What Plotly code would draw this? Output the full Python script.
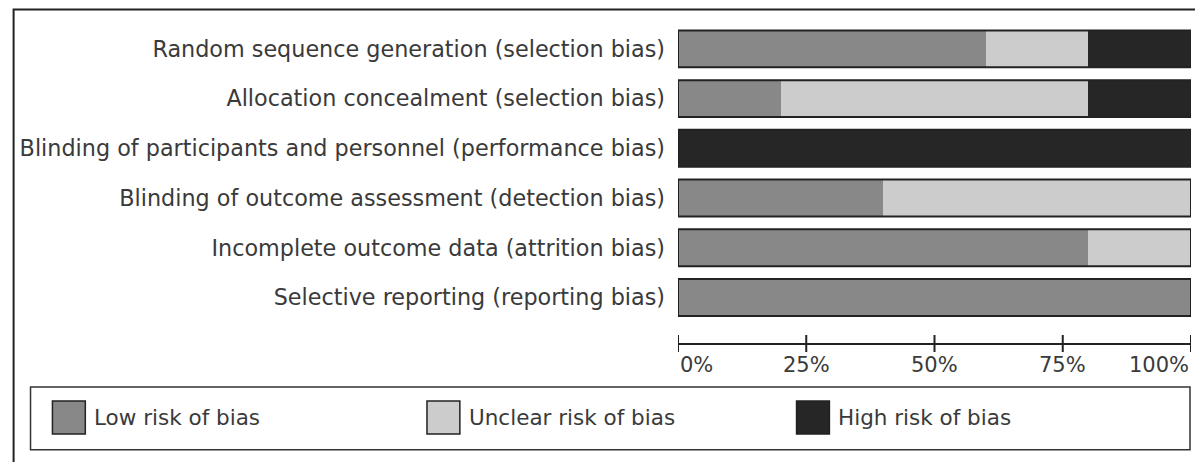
import plotly.graph_objects as go

# ---- data ----
domains = [
    "Random sequence generation (selection bias)",
    "Allocation concealment (selection bias)",
    "Blinding of participants and personnel (performance bias)",
    "Blinding of outcome assessment (detection bias)",
    "Incomplete outcome data (attrition bias)",
    "Selective reporting (reporting bias)",
]
low_risk = [60, 20, 0, 40, 80, 100]
unclear_risk = [20, 60, 0, 60, 20, 0]
high_risk = [20, 20, 100, 0, 0, 0]

series_names = ["Low risk of bias", "Unclear risk of bias", "High risk of bias"]
series_colors = ["#888888", "#cccccc", "#262626"]
tick_vals = [0, 25, 50, 75, 100]
tick_text = ["0%", "25%", "50%", "75%", "100%"]

# ---- geometry (reference pixel coords; page body adds an 8px offset) ----
OFF = 8
W, H = 1203 - OFF, 462 - OFF
L, R = 676 - OFF, 1191 - OFF
T, B = 23.6 - OFF, 344.0 - OFF
FONT = "DejaVu Sans"
TXT = "#3a3a3a"


def px2x(px):
    return (px - OFF - L) / (R - L)


def px2y(py):
    return (B - (py - OFF)) / (B - T)


fig = go.Figure()
ys = list(range(len(domains)))
for name, vals, col in zip(series_names, [low_risk, unclear_risk, high_risk], series_colors):
    fig.add_trace(go.Bar(
        y=ys, x=vals, orientation="h", name=name,
        marker=dict(color=col, line=dict(width=0)),
        width=0.743, showlegend=False,
    ))

shapes = []
# outline around each bar
for i in ys:
    shapes.append(dict(type="rect", xref="x", yref="y", x0=0, x1=100,
                       y0=i - 0.3715, y1=i + 0.3715,
                       line=dict(color="#222222", width=2), fillcolor="rgba(0,0,0,0)"))
# axis ticks crossing the axis line
for v in tick_vals:
    shapes.append(dict(type="line", xref="x", yref="paper", x0=v, x1=v,
                       y0=px2y(352), y1=px2y(335), line=dict(color="#222222", width=2)))
shapes.append(dict(type="line", xref="x", yref="paper", x0=0, x1=100,
                   y0=0, y1=0, line=dict(color="#222222", width=2)))
# outer frame
shapes.append(dict(type="rect", xref="paper", yref="paper",
                   x0=px2x(9), x1=px2x(1230), y0=px2y(9), y1=px2y(490),
                   line=dict(color="#222222", width=2), fillcolor="rgba(0,0,0,0)", layer="below"))
# legend box
shapes.append(dict(type="rect", xref="paper", yref="paper",
                   x0=px2x(26), x1=px2x(1190), y0=px2y(387), y1=px2y(450),
                   line=dict(color="#333333", width=1.5), fillcolor="rgba(0,0,0,0)"))

annotations = []
# tick labels
for v, t in zip(tick_vals, tick_text):
    anchor = "left" if v == tick_vals[0] else ("right" if v == tick_vals[-1] else "center")
    annotations.append(dict(x=v, xref="x", y=px2y(351), yref="paper", text=t,
                            xanchor=anchor, yanchor="top", showarrow=False,
                            font=dict(family=FONT, size=21, color=TXT)))

# legend items
leg_x = [48, 424, 795]
for lx, name, col in zip(leg_x, series_names, series_colors):
    shapes.append(dict(type="rect", xref="paper", yref="paper",
                       x0=px2x(lx), x1=px2x(lx + 33), y0=px2y(401), y1=px2y(434),
                       line=dict(color="#222222", width=1.5), fillcolor=col))
    annotations.append(dict(x=px2x(lx + 40), xref="paper", y=px2y(418), yref="paper",
                            text=name, xanchor="left", yanchor="middle", showarrow=False,
                            font=dict(family=FONT, size=21.5, color=TXT)))

fig.update_layout(
    width=W, height=H,
    margin=dict(l=L, r=W - R, t=T, b=H - B, pad=0),
    barmode="stack", bargap=0,
    paper_bgcolor="white", plot_bgcolor="white",
    xaxis=dict(range=[0, 100], showgrid=False, zeroline=False, showline=False,
               showticklabels=False, ticks="", fixedrange=True),
    yaxis=dict(range=[5.934, -0.5], tickvals=ys, ticktext=domains,
               showgrid=False, zeroline=False, showline=False, ticks="",
               ticklabelstandoff=12,
               tickfont=dict(family=FONT, size=22.3, color=TXT)),
    shapes=shapes, annotations=annotations,
)

fig.write_html("out.html")
